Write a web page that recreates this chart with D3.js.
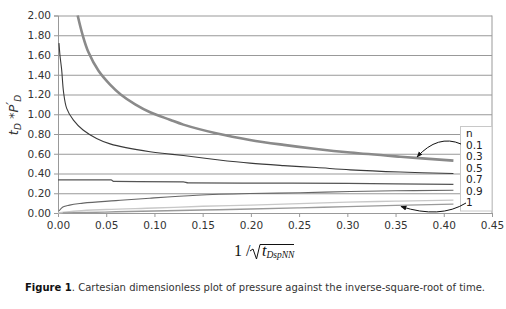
<!DOCTYPE html>
<html>
<head>
<meta charset="utf-8">
<script src="https://cdn.jsdelivr.net/npm/d3@7"></script>
<style>
  body { margin: 0; background: #fff; }
  svg { display: block; }
</style>
</head>
<body>
<div id="chart"></div>
<script>
// values (x = 1/sqrt(tDspNN), y = tD*P'D)
const nValues = ["0.1", "0.3", "0.5", "0.7", "0.9", "1"]

const curve01 = [[0.0204,2.00],[0.0256,1.80],[0.0315,1.63],[0.042,1.44],[0.054,1.30],[0.065,1.20],[0.08,1.10],[0.0955,1.02],[0.116,0.945],[0.13,0.895],[0.165,0.805],[0.199,0.74],[0.234,0.69],[0.268,0.648],[0.303,0.612],[0.355,0.57],[0.41,0.53]]
const curve03 = [[0.001,1.72],[0.002,1.60],[0.0038,1.45],[0.0058,1.22],[0.009,1.06],[0.016,0.94],[0.026,0.84],[0.040,0.755],[0.054,0.70],[0.0954,0.62],[0.113,0.60],[0.13,0.582],[0.165,0.54],[0.199,0.505],[0.234,0.48],[0.268,0.46],[0.303,0.437],[0.355,0.415],[0.41,0.40]]
const curve05 = [[0.0,0.335],[0.055,0.335],[0.058,0.32],[0.13,0.315],[0.135,0.305],[0.30,0.30],[0.35,0.295],[0.41,0.29]]
const curve07 = [[0.001,0.02],[0.005,0.06],[0.012,0.08],[0.026,0.10],[0.06,0.125],[0.095,0.15],[0.144,0.18],[0.199,0.197],[0.251,0.205],[0.303,0.218],[0.35,0.225],[0.41,0.23]]
const curve09 = [[0.0,0.0],[0.02,0.02],[0.05,0.035],[0.10,0.05],[0.15,0.068],[0.20,0.08],[0.25,0.095],[0.30,0.11],[0.35,0.12],[0.41,0.13]]
const curve10 = [[0.005,0.0],[0.03,0.005],[0.06,0.012],[0.10,0.02],[0.15,0.03],[0.20,0.04],[0.25,0.052],[0.30,0.065],[0.35,0.077],[0.41,0.09]]

const xTicks = [0, 0.05, 0.10, 0.15, 0.20, 0.25, 0.30, 0.35, 0.40, 0.45]
const yTicks = [0, 0.2, 0.4, 0.6, 0.8, 1.0, 1.2, 1.4, 1.6, 1.8, 2.0]

async function draw() {

//*************************1. Set up Measurement
  let dimensions = {
    width: 506,
    height: 309,
    margin: { top: 15.5, right: 14, bottom: 96, left: 58 }
  }
  dimensions.boundedWidth = dimensions.width - dimensions.margin.left - dimensions.margin.right
  dimensions.boundedHeight = dimensions.height - dimensions.margin.top - dimensions.margin.bottom

//*************************2. Draw Canvas
  const wrapper = d3.select("#chart")
    .append("svg")
    .attr("width", dimensions.width)
    .attr("height", dimensions.height)

  const bounds = wrapper.append("g")
    .attr("transform", `translate(${dimensions.margin.left},${dimensions.margin.top})`)

//*************************3. Scales
  const xScale = d3.scaleLinear()
    .domain([0, 0.45])
    .range([0, dimensions.boundedWidth])

  const yScale = d3.scaleLinear()
    .domain([0, 2])
    .range([dimensions.boundedHeight, 0])

//*************************4. Gridlines + axes
  const grid = bounds.append("g")
    .call(d3.axisLeft(yScale).tickValues(yTicks).tickSize(-dimensions.boundedWidth).tickFormat(""))
  grid.select(".domain").remove()
  grid.selectAll("line").attr("stroke", "#999").attr("stroke-width", 1)

  const yAxis = bounds.append("g")
    .call(d3.axisLeft(yScale).tickValues(yTicks).tickSize(4).tickPadding(3).tickFormat(d3.format(".2f")))
  yAxis.select(".domain").attr("stroke", "#999")
  yAxis.selectAll("line").attr("stroke", "#999")
  yAxis.selectAll("text").attr("fill", "#333").style("font", "10.5px 'DejaVu Sans'")

  const xAxis = bounds.append("g")
    .attr("transform", `translate(0,${dimensions.boundedHeight})`)
    .call(d3.axisBottom(xScale).tickValues(xTicks).tickSize(4).tickPadding(5).tickFormat(d3.format(".2f")))
  xAxis.select(".domain").attr("stroke", "#999")
  xAxis.selectAll("line").attr("stroke", "#999")
  xAxis.selectAll("text").attr("fill", "#333").style("font", "10.5px 'DejaVu Sans'")

  // right border of plot area
  bounds.append("line")
    .attr("x1", xScale(0.45)).attr("x2", xScale(0.45))
    .attr("y1", yScale(2)).attr("y2", yScale(0))
    .attr("stroke", "#999")

//*************************5. Draw Lines
  const smooth = d3.curveCatmullRom.alpha(0.5)
  const flat = d3.curveMonotoneX

  const series = [
    { data: curve01, color: "#8a8a8a", width: 2.6, curve: smooth },
    { data: curve03, color: "#3a3a3a", width: 1.1, curve: smooth },
    { data: curve05, color: "#555", width: 1.2, curve: flat },
    { data: curve07, color: "#666", width: 1.1, curve: flat },
    { data: curve09, color: "#c8c8c8", width: 1.4, curve: flat },
    { data: curve10, color: "#9a9a9a", width: 1.4, curve: flat }
  ]

  bounds.selectAll(".curve")
    .data(series)
    .join("path")
    .attr("class", "curve")
    .attr("d", d => d3.line()
        .x(p => xScale(p[0]))
        .y(p => yScale(p[1]))
        .curve(d.curve)(d.data))
    .attr("fill", "none")
    .attr("stroke", d => d.color)
    .attr("stroke-width", d => d.width)

//*************************6. Legend box with n values
  const legend = wrapper.append("g")
  legend.append("rect")
    .attr("x", 460.5).attr("y", 126.5)
    .attr("width", 31.5).attr("height", 84.5)
    .attr("fill", "#fff").attr("stroke", "#c8c8c8")

  legend.append("text")
    .attr("x", 466).attr("y", 137)
    .style("font", "10.5px 'DejaVu Sans'").attr("fill", "#222")
    .text("n")

  legend.selectAll(".nlab")
    .data(nValues)
    .join("text")
    .attr("class", "nlab")
    .attr("x", 466)
    .attr("y", (d, i) => 148.5 + i * 11.5)
    .style("font", "10.5px 'DejaVu Sans'").attr("fill", "#222")
    .text(d => d)

  // arrows
  wrapper.append("defs").append("marker")
    .attr("id", "arrow")
    .attr("viewBox", "0 0 10 10")
    .attr("refX", 9).attr("refY", 5)
    .attr("markerWidth", 6).attr("markerHeight", 6)
    .attr("orient", "auto")
    .append("path").attr("d", "M0,1L10,5L0,9z").attr("fill", "#111")

  wrapper.append("path")
    .attr("d", "M461,144 Q438,134 417,157")
    .attr("fill", "none").attr("stroke", "#111").attr("stroke-width", 1)
    .attr("marker-end", "url(#arrow)")

  wrapper.append("path")
    .attr("d", "M466,203 Q440,219 401,206.5")
    .attr("fill", "none").attr("stroke", "#111").attr("stroke-width", 1)
    .attr("marker-end", "url(#arrow)")

//*************************7. Axis titles + caption
  const yLab = wrapper.append("text")
    .attr("transform", "translate(18,115) rotate(-90)")
    .attr("text-anchor", "middle")
    .style("font", "italic 13px 'DejaVu Sans'").attr("fill", "#333")
  yLab.append("tspan").text("t")
  yLab.append("tspan").attr("dy", 3).style("font-size", "9px").text("D")
  yLab.append("tspan").attr("dy", -3).text(" *P")
  yLab.append("tspan").attr("dy", -3).text("′")
  yLab.append("tspan").attr("dy", 6).style("font-size", "9px").text("D")

  const xLab = wrapper.append("g")
  xLab.append("text")
    .attr("x", 234).attr("y", 256)
    .style("font", "16px 'Liberation Serif'").attr("fill", "#111")
    .text("1 /")
  xLab.append("path")
    .attr("d", "M250,251 L253,249 L256.5,259 L260,244.5 L294,244.5")
    .attr("fill", "none").attr("stroke", "#111").attr("stroke-width", 1)
  const tt = xLab.append("text")
    .attr("x", 262).attr("y", 256)
    .style("font", "italic 16px 'Liberation Serif'").attr("fill", "#111")
  tt.append("tspan").text("t")
  tt.append("tspan").attr("dy", 2).style("font-size", "9.5px").text("DspNN")

  const caption = wrapper.append("text")
    .attr("x", 25).attr("y", 291)
    .attr("textLength", 460).attr("lengthAdjust", "spacingAndGlyphs")
    .style("font", "10.5px 'DejaVu Sans'").attr("fill", "#333")
  caption.append("tspan").attr("fill", "#111").style("font-weight", "bold").text("Figure 1")
  caption.append("tspan").text(". Cartesian dimensionless plot of pressure against the inverse-square-root of time.")

}
draw()
</script>
</body>
</html>
